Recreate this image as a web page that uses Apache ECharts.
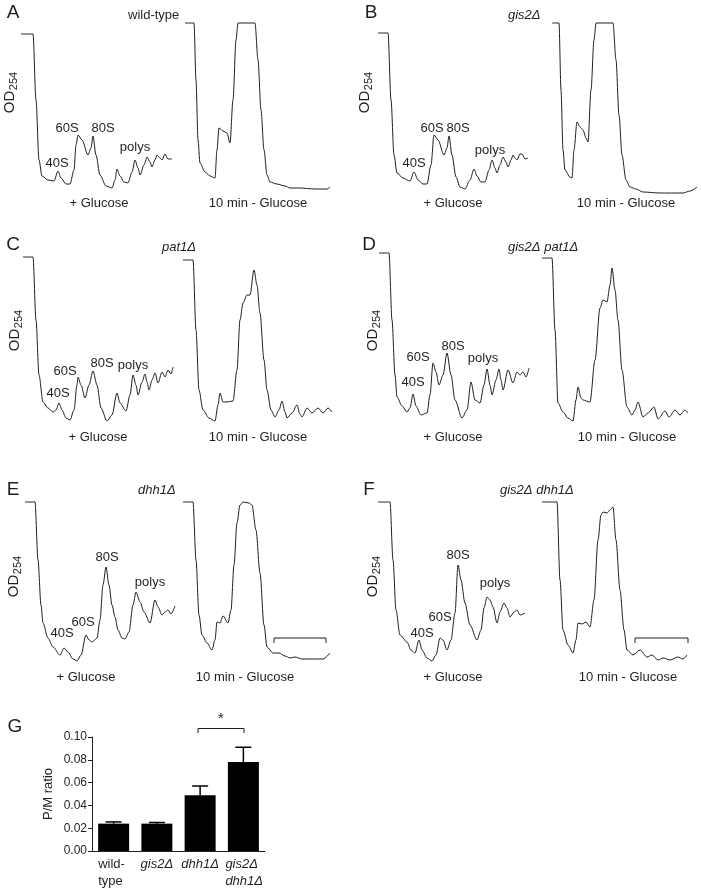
<!DOCTYPE html>
<html>
<head>
<meta charset="utf-8">
<script src="https://cdn.jsdelivr.net/npm/echarts@6/dist/echarts.min.js"></script>
<style>html,body{margin:0;padding:0;background:#fff;}#c{width:701px;height:890px;}</style>
</head>
<body>
<div id="c"></div>
<script>
// ---------- Polysome profiles (x = gradient position, y = OD254, arbitrary units) ----------
const wtGlc = [[1,161],[13,161],[16,95],[19,35],[22,19],[28,15],[34,14],[38,24],[41,17],[46,11],[50,11],[54,25],[56,50],[58,60],[62,55],[68,40],[71,47],[73,59],[76,40],[80,20],[86,9],[92,7],[95,15],[97,26],[100,19],[104,13],[108,12],[112,23],[115,35],[118,27],[120,20],[124,30],[127,38],[130,33],[132,28],[135,35],[137,40],[140,37],[142,35],[145,41],[148,36],[152,36]];
const wtNoGlc = [[2,172],[11,172],[13,115],[15,55],[17,32],[22,23],[27,19],[32,17],[34,45],[36,67],[40,64],[44,62],[47,52],[50,95],[53,155],[55,172],[72,172],[75,135],[78,85],[81,45],[84,20],[87,13],[94,11],[102,9],[107,7],[117,7],[132,6],[144,6],[147,8]];
const gis2Glc = [[3,162],[13,162],[16,95],[19,40],[22,22],[28,17],[35,14],[39,23],[43,15],[48,11],[52,11],[56,30],[59,60],[63,55],[69,40],[72,47],[74,59],[77,40],[81,18],[85,8],[90,6],[95,15],[99,26],[102,19],[106,13],[110,13],[114,25],[117,35],[120,27],[122,22],[125,30],[128,38],[131,33],[133,28],[136,35],[138,40],[140,37],[142,35],[145,41],[147,41],[150,36],[153,37]];
const gis2NoGlc = [[4,172],[11,172],[13,105],[15,45],[17,25],[22,18],[24,17],[26,45],[29,73],[32,68],[35,65],[38,57],[40,53],[43,105],[46,155],[48,172],[65,172],[68,135],[71,80],[74,40],[78,15],[82,8],[88,6],[95,3],[112,2],[135,2],[142,4],[149,8]];
const pat1Glc = [[3,168],[13,168],[16,105],[19,50],[23,23],[28,17],[33,13],[36,15],[39,22],[42,15],[46,7],[50,5],[54,15],[57,40],[58,48],[61,40],[65,27],[69,40],[73,54],[77,40],[81,17],[87,4],[92,10],[97,32],[100,22],[106,14],[110,30],[113,50],[116,40],[118,30],[122,43],[125,51],[127,43],[129,35],[132,45],[135,52],[138,42],[142,53],[145,48],[148,55],[151,51],[153,58]];
const pat1NoGlc = [[3,165],[13,165],[16,95],[19,35],[23,15],[29,7],[35,4],[38,20],[40,32],[43,23],[46,23],[53,24],[57,55],[60,105],[63,122],[67,130],[70,130],[74,155],[77,140],[80,112],[84,65],[87,35],[91,15],[95,8],[99,15],[102,24],[105,13],[107,7],[112,12],[117,20],[120,11],[122,8],[127,17],[132,12],[138,17],[143,12],[148,17],[152,13]];
const gis2pat1Glc = [[3,172],[13,172],[16,105],[19,50],[21,28],[26,19],[31,13],[34,17],[37,31],[40,19],[45,10],[51,12],[54,30],[57,62],[60,53],[63,40],[67,50],[71,72],[75,50],[79,25],[86,7],[91,15],[95,43],[99,25],[104,22],[108,40],[111,56],[114,40],[116,30],[120,45],[123,56],[125,45],[127,35],[132,55],[137,42],[141,53],[144,50],[147,53],[150,48],[153,57]];
const gis2pat1NoGlc = [[2,167],[12,167],[15,95],[18,22],[23,13],[28,7],[33,4],[36,25],[38,38],[41,27],[43,25],[50,23],[55,65],[60,117],[63,125],[67,123],[70,140],[72,157],[75,135],[78,105],[82,55],[87,18],[92,10],[95,15],[98,23],[103,8],[108,12],[114,18],[118,6],[125,14],[129,8],[135,15],[140,10],[145,15],[148,12]];
const dhh1Glc = [[3,163],[13,163],[16,105],[19,60],[21,42],[26,27],[31,18],[38,10],[42,17],[46,13],[51,6],[55,4],[59,10],[64,30],[67,25],[70,23],[75,27],[78,45],[81,80],[84,98],[87,80],[90,60],[93,48],[96,35],[100,27],[103,26],[107,33],[111,60],[114,73],[118,63],[122,53],[128,42],[133,65],[136,58],[140,50],[143,53],[146,55],[149,51],[153,59]];
const dhh1NoGlc = [[3,163],[13,163],[16,105],[19,50],[22,30],[27,22],[32,15],[35,25],[37,43],[40,42],[43,49],[48,42],[51,55],[54,100],[57,142],[60,160],[63,163],[69,162],[72,160],[76,135],[80,92],[84,40],[87,18],[93,12],[99,12],[105,9],[110,7],[115,8],[122,6],[132,6],[143,6],[150,12]];
const gis2dhh1Glc = [[2,163],[14,163],[17,105],[20,55],[24,30],[31,23],[35,15],[39,12],[43,25],[46,15],[51,7],[56,4],[60,10],[64,27],[67,25],[71,15],[75,25],[79,52],[82,100],[85,85],[89,62],[94,40],[101,25],[105,35],[108,57],[111,68],[114,65],[117,58],[121,42],[124,53],[128,62],[131,57],[134,48],[138,53],[141,55],[144,50],[149,52]];
const gis2dhh1NoGlc = [[2,163],[17,163],[20,85],[23,35],[28,20],[33,12],[36,25],[38,42],[42,41],[46,43],[50,38],[54,65],[58,125],[61,150],[63,153],[67,152],[70,155],[73,158],[76,125],[80,75],[84,35],[87,15],[93,10],[100,15],[107,8],[112,10],[118,5],[123,7],[130,5],[138,8],[143,6],[147,10]];
const bracketE = [[94,22],[94,27],[146,27],[146,22]];
const bracketF = [[95,22],[95,27],[148,27],[148,22]];

// ---------- Panel G ----------
const strains = ['wild-\ntype', 'gis2Δ', 'dhh1Δ', 'gis2Δ\ndhh1Δ'];
const pmRatio = [0.024, 0.024, 0.049, 0.078];
const pmRatioUpper = [0.0255, 0.025, 0.057, 0.091];

// ---------- layout ----------
const traces = [
  {d: wtGlc, L:20, W:160, T:20, H:175},
  {d: wtNoGlc, L:183, W:155, T:20, H:175},
  {d: gis2Glc, L:375, W:160, T:20, H:175},
  {d: gis2NoGlc, L:548, W:152, T:20, H:175},
  {d: pat1Glc, L:20, W:160, T:240, H:185},
  {d: pat1NoGlc, L:180, W:155, T:240, H:185},
  {d: gis2pat1Glc, L:376, W:160, T:240, H:185},
  {d: gis2pat1NoGlc, L:540, W:152, T:240, H:185},
  {d: dhh1Glc, L:22, W:160, T:490, H:175},
  {d: dhh1NoGlc, L:180, W:155, T:490, H:175, br: bracketE},
  {d: gis2dhh1Glc, L:376, W:155, T:490, H:175},
  {d: gis2dhh1NoGlc, L:540, W:152, T:490, H:175, br: bracketF}
];

const grid = [], xAxis = [], yAxis = [], series = [];
const INK = '#1f1f1f';
const FF = 'Liberation Sans';
traces.forEach((t, i) => {
  grid.push({left: t.L, top: t.T, width: t.W, height: t.H, containLabel: false, outerBoundsMode: 'none'});
  xAxis.push({type: 'value', gridIndex: i, min: 0, max: t.W, show: false});
  yAxis.push({type: 'value', gridIndex: i, min: 0, max: t.H, show: false});
  series.push({type: 'line', xAxisIndex: i, yAxisIndex: i, data: t.d, showSymbol: false, smooth: 0.3, smoothMonotone: 'x', clip: false,
    lineStyle: {color: INK, width: 1}, silent: true, animation: false});
  if (t.br) {
    series.push({type: 'line', xAxisIndex: i, yAxisIndex: i, data: t.br, showSymbol: false, smooth: false, clip: false,
      lineStyle: {color: INK, width: 1}, silent: true, animation: false});
  }
});

// bar chart grid
const gi = traces.length;
grid.push({left: 92, top: 737, width: 173, height: 114, containLabel: false, outerBoundsMode: 'none'});
xAxis.push({type: 'category', gridIndex: gi, data: strains,
  axisLine: {lineStyle: {color: INK, width: 1}}, axisTick: {show: false},
  axisLabel: {interval: 0, margin: 5, color: INK, fontSize: 13, fontFamily: FF, lineHeight: 17,
    formatter: (v, idx) => {
      const lines = v.split('\n');
      if (lines.length === 1) return idx === 0 ? v : '{i1|' + v + '}';
      return lines.map(s => idx === 0 ? '{n2|' + s + '}' : '{i2|' + s + '}').join('\n');
    },
    rich: {
      i1: {fontStyle: 'italic', fontSize: 13, fontFamily: FF, color: INK, lineHeight: 17},
      n2: {fontSize: 13, fontFamily: FF, color: INK, lineHeight: 17, width: 31, align: 'left'},
      i2: {fontStyle: 'italic', fontSize: 13, fontFamily: FF, color: INK, lineHeight: 17, width: 36, align: 'left'}
    }}});
yAxis.push({type: 'value', gridIndex: gi, min: 0, max: 0.10, interval: 0.02,
  name: 'P/M ratio', nameLocation: 'middle', nameGap: 37, nameRotate: 90,
  nameTextStyle: {color: INK, fontSize: 13, fontFamily: FF},
  axisLine: {show: true, lineStyle: {color: INK, width: 1}},
  axisTick: {show: true, length: 4, lineStyle: {color: INK}},
  axisLabel: {color: INK, fontSize: 12, fontFamily: FF, margin: 5, formatter: v => v.toFixed(2)},
  splitLine: {show: false}});
series.push({type: 'bar', xAxisIndex: gi, yAxisIndex: gi, data: pmRatio, barWidth: 31,
  itemStyle: {color: '#000'}, silent: true, animation: false});
series.push({type: 'custom', xAxisIndex: gi, yAxisIndex: gi, silent: true, animation: false,
  data: pmRatio.map((v, k) => [k, v, pmRatioUpper[k]]),
  renderItem: (params, api) => {
    const lo = api.coord([api.value(0), api.value(1)]);
    const hi = api.coord([api.value(0), api.value(2)]);
    const cw = 8;
    return {type: 'group', children: [
      {type: 'line', shape: {x1: lo[0], y1: lo[1], x2: hi[0], y2: hi[1]}, style: {stroke: '#000', lineWidth: 1.5}},
      {type: 'line', shape: {x1: hi[0] - cw, y1: hi[1], x2: hi[0] + cw, y2: hi[1]}, style: {stroke: '#000', lineWidth: 1.5}}
    ]};
  }});

// ---------- text annotations ----------
const txt = (text, x, y, size, opts = {}) => ({type: 'text', x, y, silent: true, rotation: opts.rot || 0,
  style: {text, fill: INK, font: (opts.italic ? 'italic ' : '') + size + 'px "' + FF + '"', align: opts.align || 'center', verticalAlign: 'middle'}});
const g = [];
// panel letters
[['A',13,13],['B',371,13],['C',13,245],['D',369,245],['E',13,490],['F',369,490],['G',15,727]].forEach(p => g.push(txt(p[0], p[1], p[2], 19)));
// strain titles
g.push(txt('wild-type', 128, 15, 13, {align: 'left'}));
g.push(txt('gis2Δ', 508, 15, 13, {align: 'left', italic: true}));
g.push(txt('pat1Δ', 162, 247, 13, {align: 'left', italic: true}));
g.push(txt('gis2Δ pat1Δ', 508, 247, 13, {align: 'left', italic: true}));
g.push(txt('dhh1Δ', 138, 490, 13, {align: 'left', italic: true}));
g.push(txt('gis2Δ dhh1Δ', 500, 490, 13, {align: 'left', italic: true}));
// condition labels
[[99,203,258,203],[453,203,626,203],[98,437,258,437],[453,437,627,437],[86,677,245,677],[453,677,628,677]].forEach(r => {
  g.push(txt('+ Glucose', r[0], r[1], 13));
  g.push(txt('10 min - Glucose', r[2], r[3], 13));
});
// OD254 axis titles
[[10,102,13.5,81],[365,102,368.5,81],[15,340,18.5,319],[373,340,376.5,319],[14,586,17.5,565],[373,586,376.5,565]].forEach(o => {
  g.push(txt('OD', o[0], o[1], 15, {rot: Math.PI / 2}));
  g.push(txt('254', o[2], o[3], 11, {rot: Math.PI / 2}));
});
// peak labels
const peaks = [
  [57,163,67,128,103,128,135,147],
  [414,163,432,128,458,128,490,150],
  [58,393,65,371,102,363,133,365],
  [413,382,418,357,453,346,483,358],
  [62,633,83,622,107,557,150,582],
  [422,633,440,617,458,555,495,583]
];
peaks.forEach(p => {
  g.push(txt('40S', p[0], p[1], 13));
  g.push(txt('60S', p[2], p[3], 13));
  g.push(txt('80S', p[4], p[5], 13));
  g.push(txt('polys', p[6], p[7], 13));
});
// significance bracket in G
g.push({type: 'polyline', silent: true, shape: {points: [[198,733],[198,728.5],[244,728.5],[244,733]]}, style: {stroke: INK, lineWidth: 1, fill: null}});
g.push(txt('*', 221, 719, 15));

const chart = echarts.init(document.getElementById('c'), null, {renderer: 'canvas'});
chart.setOption({backgroundColor: '#fff', animation: false, grid, xAxis, yAxis, series, graphic: g});
</script>
</body>
</html>
